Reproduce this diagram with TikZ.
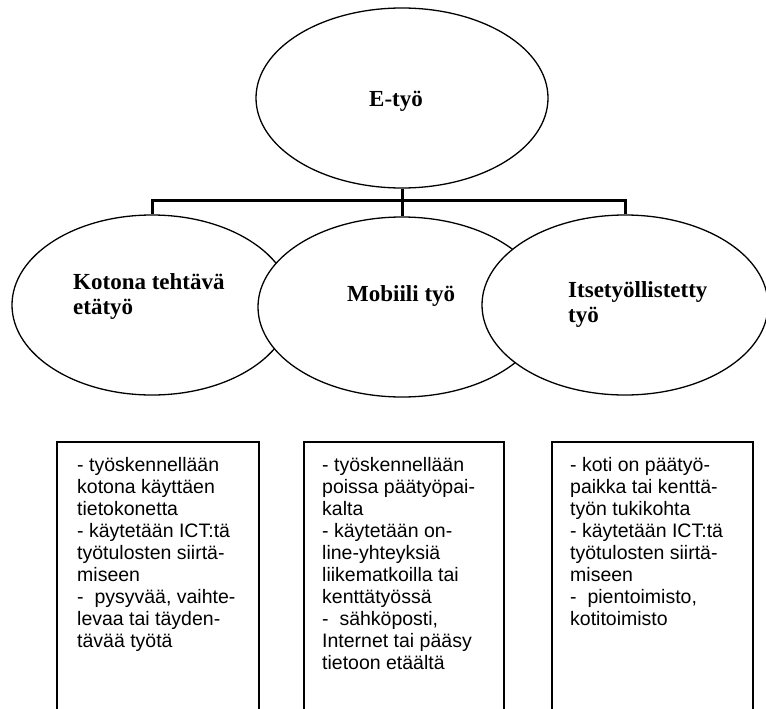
\documentclass[tikz,border=0pt]{standalone}
\usepackage{fontspec}
\setmainfont{Liberation Serif}
\setsansfont{Liberation Sans}
\usetikzlibrary{shapes.geometric}
\begin{document}
\begin{tikzpicture}[x=1pt,y=-1pt,
  ell/.style={ellipse, draw, line width=1.3pt, fill=white, inner sep=0pt},
  conn/.style={line width=3pt},
  boxrect/.style={draw, line width=1.5pt, rectangle, inner sep=0pt, anchor=north west, minimum height=290pt},
  etext/.style={font=\bfseries\fontsize{23}{25}\selectfont, align=left, inner sep=0pt, anchor=north west},
  btext/.style={font=\sffamily\fontsize{19.5}{22}\selectfont, align=left, inner sep=0pt, anchor=north west}]
\useasboundingbox (0,0) rectangle (766,709);
% ellipses
\node[ell, minimum width=292pt, minimum height=180pt] (top) at (402,98) {};
\node[ell, minimum width=280pt, minimum height=180pt] (kot) at (152,305) {};
\node[ell, minimum width=288pt, minimum height=180pt] (mob) at (402,307) {};
\node[ell, minimum width=286pt, minimum height=180pt] (its) at (625,305) {};
% texts in ellipses
\node[etext] (ttop) at (369,91) {E-työ};
\node[etext] (tkot) at (73,273) {Kotona tehtävä\\etätyö};
\node[etext] (tmob) at (347,285) {Mobiili työ};
\node[etext] (tits) at (568,281) {Itsetyöllistetty\\työ};
% connectors
\coordinate (bar) at (402,200);
\draw[conn] (top.south) -- (mob.north);
\draw[conn] (kot.north) -- (kot.north |- bar) -- (its.north |- bar) -- (its.north);
% boxes
\node[boxrect, minimum width=202pt] (b1) at (56,441) {};
\node[boxrect, minimum width=200pt] (b2) at (303,441) {};
\node[boxrect, minimum width=201pt] (b3) at (551,441) {};
\node[btext] (tb1) at (77,457) {- työskennellään\\kotona käyttäen\\tietokonetta\\- käytetään ICT:tä\\työtulosten siirtä-\\miseen\\-\ \ pysyvää, vaihte-\\levaa tai täyden-\\tävää työtä};
\node[btext] (tb2) at (322,457) {- työskennellään\\poissa päätyöpai-\\kalta\\- käytetään on-\\line-yhteyksiä\\liikematkoilla tai\\kenttätyössä\\-\ \ sähköposti,\\Internet tai pääsy\\tietoon etäältä};
\node[btext] (tb3) at (570,457) {- koti on päätyö-\\paikka tai kenttä-\\työn tukikohta\\- käytetään ICT:tä\\työtulosten siirtä-\\miseen\\-\ \ pientoimisto,\\kotitoimisto};
\end{tikzpicture}
\end{document}
